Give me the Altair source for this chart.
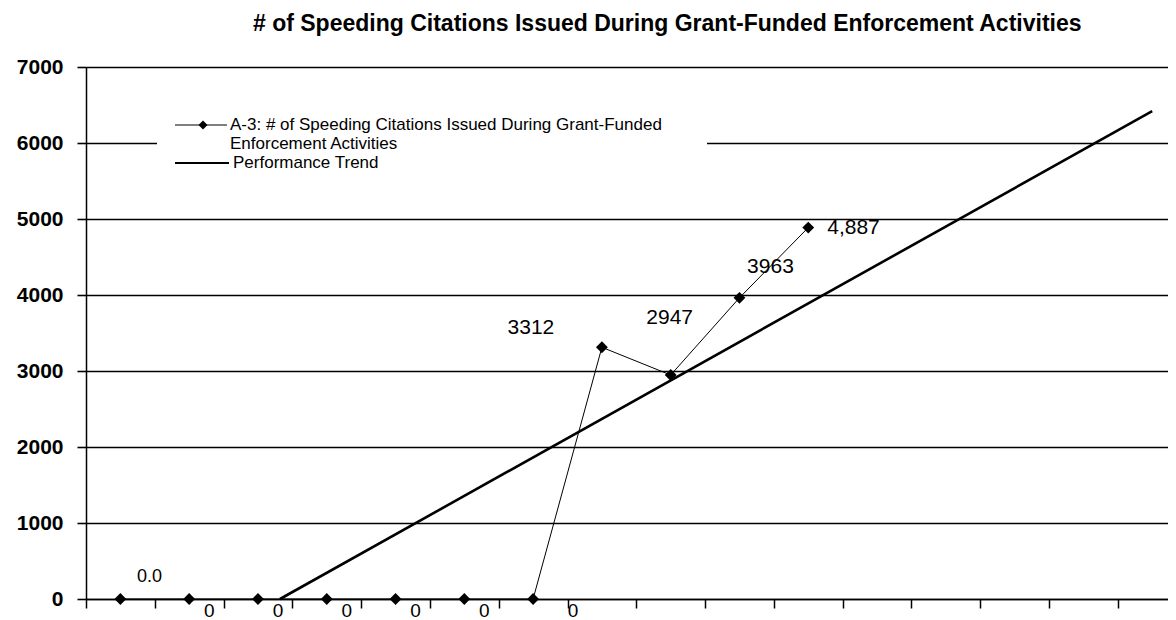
import altair as alt
import pandas as pd

# ---- data ----
periods = list(range(1, 12))
citations = [0, 0, 0, 0, 0, 0, 0, 3312, 2947, 3963, 4887]
point_labels = ["0.0", "0", "0", "0", "0", "0", "0", "3312", "2947", "3963", "4,887"]
trend_periods = [3.32, 16]
trend_values = [0, 6420]
y_ticks = [0, 1000, 2000, 3000, 4000, 5000, 6000, 7000]
x_boundaries = [0.5 + i for i in range(16)]
title_text = "# of Speeding Citations Issued During Grant-Funded Enforcement Activities"
legend_labels = [
    "A-3: # of Speeding Citations Issued During Grant-Funded",
    "Enforcement Activities",
    "Performance Trend",
]

FONT = "Liberation Sans"

df = pd.DataFrame({"period": periods, "value": citations, "label": point_labels})
trend_df = pd.DataFrame({"period": trend_periods, "value": trend_values})
one = pd.DataFrame({"k": [0]})

x_enc = alt.X(
    "period:Q",
    scale=alt.Scale(domain=[0.5, 16.23], nice=False, zero=False),
    axis=alt.Axis(values=x_boundaries, labels=False, title=None, tickSize=9,
                  tickColor="black", tickWidth=1.5, domainColor="black",
                  domainWidth=1.5, grid=False),
)
y_enc = alt.Y(
    "value:Q",
    scale=alt.Scale(domain=[0, 7000], nice=False),
    axis=alt.Axis(values=y_ticks, format="d", title=None, grid=True,
                  gridColor="black", gridWidth=1.6, gridOpacity=1, tickSize=9,
                  tickColor="black", tickWidth=1.6, labelFont=FONT,
                  labelFontWeight="bold", labelFontSize=21, labelPadding=14,
                  labelColor="black", domainColor="black", domainWidth=1.5),
)

base = alt.Chart(df).encode(x=x_enc, y=y_enc)

trend = alt.Chart(trend_df).mark_line(color="black", strokeWidth=2.6).encode(
    x=alt.X("period:Q"), y=alt.Y("value:Q"))

series_line = base.mark_line(color="black", strokeWidth=1)
series_pts = base.mark_point(shape="diamond", filled=True, color="black",
                             size=140, opacity=1)

lbl_first = base.transform_filter("datum.period == 1").mark_text(
    font=FONT, fontSize=18, color="black", dx=29, dy=-22).encode(text="label:N")
lbl_zero = base.transform_filter("datum.period >= 2 && datum.period <= 6").mark_text(
    font=FONT, fontSize=19, color="black", dx=20, dy=12).encode(text="label:N")
lbl_7 = base.transform_filter("datum.period == 7").mark_text(
    font=FONT, fontSize=19, color="black", dx=40, dy=12).encode(text="label:N")
lbl_8 = base.transform_filter("datum.period == 8").mark_text(
    font=FONT, fontSize=21, color="black", dx=-71, dy=-19).encode(text="label:N")
lbl_9 = base.transform_filter("datum.period == 9").mark_text(
    font=FONT, fontSize=21, color="black", dx=-1, dy=-57).encode(text="label:N")
lbl_10 = base.transform_filter("datum.period == 10").mark_text(
    font=FONT, fontSize=21, color="black", dx=31, dy=-31).encode(text="label:N")
lbl_11 = base.transform_filter("datum.period == 11").mark_text(
    font=FONT, fontSize=21, color="black", dx=19, dy=0, align="left").encode(text="label:N")

# ---- manual legend ----
leg_box = alt.Chart(one).mark_rect(color="white").encode(
    x=alt.value(71), x2=alt.value(621), y=alt.value(48), y2=alt.value(106))
leg_line1 = alt.Chart(one).mark_rule(color="black", strokeWidth=1).encode(
    x=alt.value(89), x2=alt.value(141), y=alt.value(58))
leg_pt = alt.Chart(one).mark_point(shape="diamond", filled=True, color="black",
                                   size=80, opacity=1).encode(
    x=alt.value(117), y=alt.value(58))
leg_line2 = alt.Chart(one).mark_rule(color="black", strokeWidth=2).encode(
    x=alt.value(89), x2=alt.value(143), y=alt.value(96))
leg_t1 = alt.Chart(one).mark_text(font=FONT, fontSize=17, color="black", align="left",
                                  baseline="middle", text=legend_labels[0]).encode(
    x=alt.value(144), y=alt.value(58))
leg_t2 = alt.Chart(one).mark_text(font=FONT, fontSize=17, color="black", align="left",
                                  baseline="middle", text=legend_labels[1]).encode(
    x=alt.value(144), y=alt.value(77))
leg_t3 = alt.Chart(one).mark_text(font=FONT, fontSize=17, color="black", align="left",
                                  baseline="middle", text=legend_labels[2]).encode(
    x=alt.value(147), y=alt.value(96))

chart = alt.layer(
    trend, series_line, series_pts,
    lbl_first, lbl_zero, lbl_7, lbl_8, lbl_9, lbl_10, lbl_11,
    leg_box, leg_line1, leg_pt, leg_line2, leg_t1, leg_t2, leg_t3,
).properties(
    width=1082,
    height=532,
    padding={"left": 78, "top": 59, "right": 0, "bottom": 22},
    autosize=alt.AutoSizeParams(type="none"),
    title=alt.TitleParams(text=title_text, anchor="start", frame="group", dx=167,
                          offset=20, font=FONT, fontSize=23, fontWeight="bold",
                          color="black"),
).configure_view(stroke=None).configure(background="white")

chart.save("out.html", embed_options={"renderer": "svg", "actions": False})
